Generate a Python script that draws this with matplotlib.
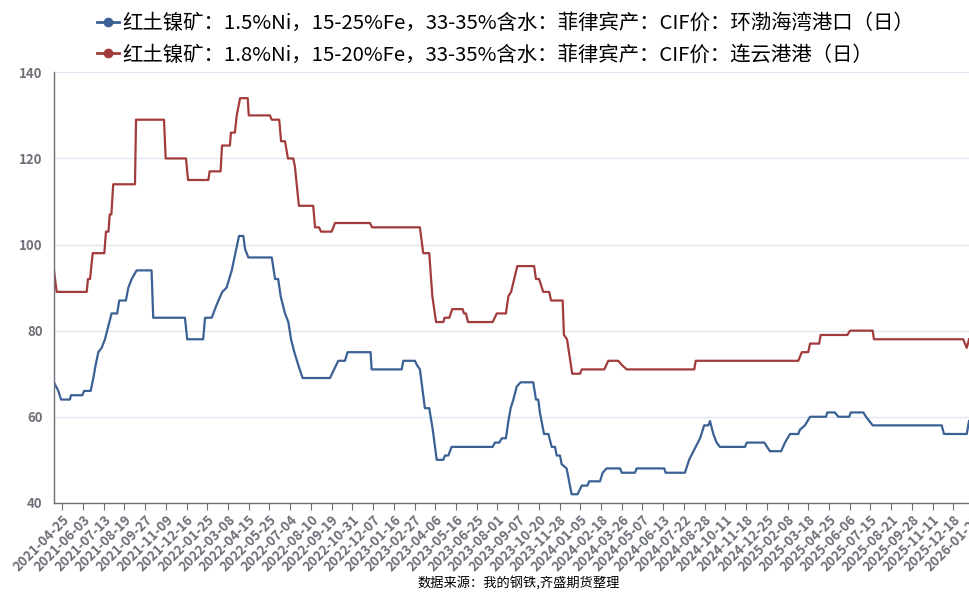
import matplotlib
matplotlib.use('Agg')
import matplotlib.pyplot as plt
from matplotlib.lines import Line2D

plt.rcParams['font.family'] = ['Noto Sans CJK SC', 'DejaVu Sans']

# x 轴标签（类目轴，每个标签占一个单位）
date_labels = [
    '2021-04-25', '2021-06-03', '2021-07-13', '2021-08-19', '2021-09-27', '2021-11-09',
    '2021-12-16', '2022-01-25', '2022-03-08', '2022-04-15', '2022-05-25', '2022-07-04',
    '2022-08-10', '2022-09-19', '2022-10-31', '2022-12-07', '2023-01-16', '2023-02-27',
    '2023-04-06', '2023-05-16', '2023-06-25', '2023-08-01', '2023-09-07', '2023-10-20',
    '2023-11-28', '2024-01-05', '2024-02-18', '2024-03-26', '2024-05-07', '2024-06-13',
    '2024-07-22', '2024-08-28', '2024-10-11', '2024-11-18', '2024-12-25', '2025-02-08',
    '2025-03-18', '2025-04-25', '2025-06-06', '2025-07-15', '2025-08-21', '2025-09-28',
    '2025-11-11', '2025-12-18', '2026-01-27',
]

# 1.5%Ni 环渤海湾港口：位置（标签单位）与价格
ni15_x = [-0.40, -0.19, -0.06, 0.37, 0.42, 0.97, 1.05, 1.37, 1.50, 1.61, 1.74, 1.90,
          2.06, 2.38, 2.65, 2.75, 3.07, 3.19, 3.35, 3.59, 4.31, 4.39, 5.92, 6.03,
          6.80, 6.89, 7.21, 7.45, 7.72, 7.93, 8.18, 8.53, 8.74, 8.82, 8.98, 10.11,
          10.27, 10.42, 10.54, 10.75, 10.91, 11.04, 11.20, 11.39, 11.60, 12.92, 13.32, 13.64,
          13.77, 14.88, 14.93, 16.38, 16.46, 17.02, 17.12, 17.26, 17.50, 17.71, 17.88, 18.07,
          18.39, 18.47, 18.63, 18.79, 20.77, 20.88, 21.09, 21.21, 21.41, 21.53, 21.64, 21.77,
          21.93, 22.12, 22.73, 22.86, 22.97, 23.05, 23.25, 23.46, 23.62, 23.78, 23.86, 24.02,
          24.10, 24.34, 24.58, 24.87, 25.07, 25.34, 25.43, 25.95, 26.08, 26.27, 26.92, 27.00,
          27.64, 27.72, 29.05, 29.12, 30.05, 30.25, 30.57, 30.78, 30.98, 31.18, 31.26, 31.42,
          31.58, 31.74, 32.95, 33.03, 33.88, 34.15, 34.69, 34.88, 35.12, 35.52, 35.60, 35.84,
          36.09, 36.86, 36.92, 37.29, 37.45, 37.98, 38.05, 38.66, 38.79, 39.11, 42.44, 42.55,
          43.65, 43.76]
ni15_price = [68, 66, 64, 64, 65, 65, 66, 66, 69, 72, 75, 76,
              78, 84, 84, 87, 87, 90, 92, 94, 94, 83, 83, 78,
              78, 83, 83, 86, 89, 90, 94, 102, 102, 99, 97, 97,
              92, 92, 88, 84, 82, 78, 75, 72, 69, 69, 73, 73,
              75, 75, 71, 71, 73, 73, 72, 71, 62, 62, 57, 50,
              50, 51, 51, 53, 53, 54, 54, 55, 55, 59, 62, 64,
              67, 68, 68, 64, 64, 61, 56, 56, 53, 53, 51, 51,
              49, 48, 42, 42, 44, 44, 45, 45, 47, 48, 48, 47,
              47, 48, 48, 47, 47, 50, 53, 55, 58, 58, 59, 56,
              54, 53, 53, 54, 54, 52, 52, 54, 56, 56, 57, 58,
              60, 60, 61, 61, 60, 60, 61, 61, 60, 58, 58, 56,
              56, 59]

# 1.8%Ni 连云港港：位置（标签单位）与价格
ni18_x = [-0.40, -0.27, 1.18, 1.24, 1.34, 1.47, 2.03, 2.11, 2.23, 2.29, 2.37, 2.46,
          3.51, 3.56, 4.91, 4.99, 5.97, 6.07, 7.05, 7.11, 7.64, 7.71, 8.09, 8.14,
          8.33, 8.42, 8.58, 8.95, 9.00, 10.02, 10.11, 10.47, 10.56, 10.75, 10.89, 11.15,
          11.23, 11.42, 12.11, 12.20, 12.39, 12.49, 13.00, 13.16, 14.85, 14.95, 17.26, 17.42,
          17.71, 17.86, 18.04, 18.39, 18.45, 18.68, 18.82, 19.32, 19.39, 19.48, 19.58, 20.77,
          20.97, 21.41, 21.53, 21.66, 21.96, 22.77, 22.86, 23.01, 23.21, 23.50, 23.59, 24.15,
          24.21, 24.36, 24.61, 24.99, 25.07, 26.16, 26.35, 26.83, 27.01, 27.24, 30.50, 30.57,
          35.52, 35.69, 36.00, 36.09, 36.53, 36.60, 37.89, 38.02, 39.11, 39.17, 43.48, 43.65,
          43.76]
ni18_price = [94, 89, 89, 92, 92, 98, 98, 103, 103, 107, 107, 114,
              114, 129, 129, 120, 120, 115, 115, 117, 117, 123, 123, 126,
              126, 130, 134, 134, 130, 130, 129, 129, 124, 124, 120, 120,
              118, 109, 109, 104, 104, 103, 103, 105, 105, 104, 104, 98,
              98, 88, 82, 82, 83, 83, 85, 85, 84, 84, 82, 82,
              84, 84, 88, 89, 95, 95, 92, 92, 89, 89, 87, 87,
              79, 78, 70, 70, 71, 71, 73, 73, 72, 71, 71, 73,
              73, 75, 75, 77, 77, 79, 79, 80, 80, 78, 78, 76,
              78]

series_names = [
    '红土镍矿：1.5%Ni，15-25%Fe，33-35%含水：菲律宾产：CIF价：环渤海湾港口（日）',
    '红土镍矿：1.8%Ni，15-20%Fe，33-35%含水：菲律宾产：CIF价：连云港港（日）',
]
y_ticks = [40, 60, 80, 100, 120, 140]
source_text = '数据来源：我的钢铁,齐盛期货整理'

blue = '#3a6094'
red = '#a23b3b'
axis_gray = '#6e7079'

fig = plt.figure(figsize=(9.69, 5.93), dpi=100)
ax = fig.add_axes([0.0557, 0.152, 0.9516, 0.726])

ax.plot(ni15_x, ni15_price, color=blue, linewidth=1.6)
ax.plot(ni18_x, ni18_price, color=red, linewidth=1.6)

ax.set_xlim(-0.40, 44.1)
ax.set_ylim(40, 140)

ax.set_yticks(y_ticks)
ax.set_yticklabels([str(v) for v in y_ticks], fontsize=9.5, color=axis_gray, fontweight='bold')
ax.tick_params(axis='y', length=0, pad=8)
ax.grid(axis='y', color='#e0e6f1', linewidth=1)
ax.set_axisbelow(True)

ax.set_xticks(range(len(date_labels)))
ax.set_xticklabels(date_labels, rotation=45, ha='right', va='top', rotation_mode='anchor',
                   fontsize=9.6, color=axis_gray, fontweight='bold')
ax.tick_params(axis='x', length=5, color=axis_gray, pad=2)

for side in ['top', 'right']:
    ax.spines[side].set_visible(False)
for side in ['left', 'bottom']:
    ax.spines[side].set_color(axis_gray)
    ax.spines[side].set_linewidth(1)

handles = [Line2D([], [], color=blue, linewidth=2, marker='o', markersize=6),
           Line2D([], [], color=red, linewidth=2, marker='o', markersize=6)]
fig.legend(handles, series_names, loc='upper left', bbox_to_anchor=(0.086, 1.0),
           frameon=False, fontsize=14.7, handlelength=1.1, handletextpad=0.15,
           labelspacing=0.5, borderpad=0.15)

fig.text(0.535, 0.016, source_text, ha='center', va='center', fontsize=9.5, color='black')

fig.savefig('out.png', dpi=100)
